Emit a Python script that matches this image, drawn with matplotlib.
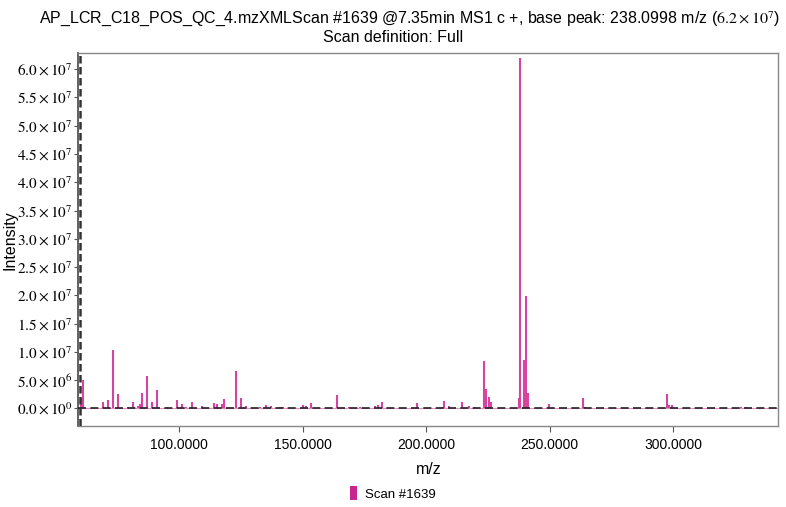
import math
import matplotlib
matplotlib.use("Agg")
import matplotlib.pyplot as plt
from matplotlib.patches import Patch
from matplotlib.ticker import FixedLocator, FuncFormatter

plt.rcParams['font.family'] = ['Liberation Sans', 'DejaVu Sans']
plt.rcParams['mathtext.fontset'] = 'stix'

# ---- data ----
mz = [60.1, 61.0, 69.0, 71.4, 73.2, 75.2, 79.5, 81.3, 83.3, 84.2, 85.0, 87.2,
      89.2, 91.1, 95.0, 99.1, 101.2, 102.8, 105.1, 109.2, 114.2, 115.3, 117.3,
      118.2, 123.1, 125.1, 127.1, 132.8, 135.2, 137.1, 140.9, 142.0, 150.1,
      151.4, 153.4, 164.1, 168.6, 173.3, 179.4, 180.3, 182.2, 196.2, 206.4,
      207.3, 209.3, 214.4, 217.5, 219.8, 223.2, 224.3, 225.5, 226.3, 237.4,
      238.0998, 239.4, 240.5, 241.4, 249.5, 263.4, 264.4, 297.4, 298.3, 299.4,
      327.4, 329.4]
intensity = [1.8e6, 5.1e6, 1.2e6, 1.5e6, 10.4e6, 2.5e6, 0.3e6, 1.1e6, 0.5e6, 0.8e6,
             2.7e6, 5.8e6, 1.2e6, 3.2e6, 0.3e6, 1.5e6, 0.7e6, 0.3e6, 1.1e6, 0.5e6,
             0.9e6, 0.8e6, 0.8e6, 1.7e6, 6.6e6, 1.8e6, 0.4e6, 0.3e6, 0.6e6, 0.5e6,
             0.3e6, 0.3e6, 0.6e6, 0.4e6, 0.9e6, 2.4e6, 0.2e6, 0.2e6, 0.4e6, 0.6e6,
             1.1e6, 1.0e6, 0.3e6, 1.4e6, 0.4e6, 1.2e6, 0.4e6, 0.2e6, 8.4e6, 3.4e6,
             2.1e6, 1.1e6, 1.9e6, 62.0e6, 8.5e6, 19.9e6, 2.8e6, 0.8e6, 1.8e6, 0.3e6,
             2.5e6, 0.6e6, 0.6e6, 0.2e6, 0.3e6]

x_ticks = [100, 150, 200, 250, 300]
y_ticks = [0, 5e6, 1e7, 1.5e7, 2e7, 2.5e7, 3e7, 3.5e7, 4e7, 4.5e7, 5e7, 5.5e7, 6e7]

title1 = "AP_LCR_C18_POS_QC_4.mzXMLScan #1639 @7.35min MS1 c +, base peak: 238.0998 m/z ($6.2 \\times 10^{7}$)"
title2 = "Scan definition: Full"
series_name = "Scan #1639"
color = '#d6449f'

fig = plt.figure(figsize=(7.86, 5.07), dpi=100)
ax = fig.add_axes([0.0996, 0.1598, 0.8906, 0.7351])

ax.axhline(0, color='#e88cc4', lw=0.8, zorder=1)
ax.vlines(mz, 0, intensity, color=color, lw=1.5, zorder=2)
ax.axhline(0, color='#222222', lw=1.2, dashes=(4.8, 2.6), zorder=3)
ax.axvline(59.9, color='#333333', lw=1.8, dashes=(3.0, 1.4), zorder=3)

ax.set_xlim(59.2, 342.5)
ax.set_ylim(-3.1e6, 62.8e6)

ax.xaxis.set_major_locator(FixedLocator(x_ticks))
ax.xaxis.set_major_formatter(FuncFormatter(lambda v, p: f"{v:.4f}"))
ax.yaxis.set_major_locator(FixedLocator(y_ticks))

def yfmt(v, p):
    if v == 0:
        return r"$0.0 \times 10^{0}$"
    e = int(math.floor(math.log10(v)))
    m = v / 10 ** e
    return rf"${m:.1f} \times 10^{{{e}}}$"

ax.yaxis.set_major_formatter(FuncFormatter(yfmt))
ax.tick_params(axis='y', labelsize=11, length=3, color='#555555', pad=1)
ax.tick_params(axis='x', labelsize=10, length=4, color='#555555', pad=5)

for s in ax.spines.values():
    s.set_color('#888888')
    s.set_linewidth(1.0)
ax.spines['left'].set_color('#555555')
ax.spines['left'].set_linewidth(1.3)

ax.set_xlabel("m/z", fontsize=11.5, labelpad=7)
ax.set_ylabel("Intensity", fontsize=11.5)
ax.yaxis.set_label_coords(-0.087, 0.5)

fig.text(0.5216, 0.963, title1, ha='center', va='center', fontsize=11.5)
fig.text(0.5, 0.926, title2, ha='center', va='center', fontsize=11.5)

fig.legend(handles=[Patch(facecolor='#c8268e', edgecolor='none', label=series_name)],
           loc='center', bbox_to_anchor=(0.5, 0.027), frameon=False, fontsize=9.5,
           handlelength=0.55, handleheight=1.3, handletextpad=0.6)

fig.savefig("out.png", dpi=100)
